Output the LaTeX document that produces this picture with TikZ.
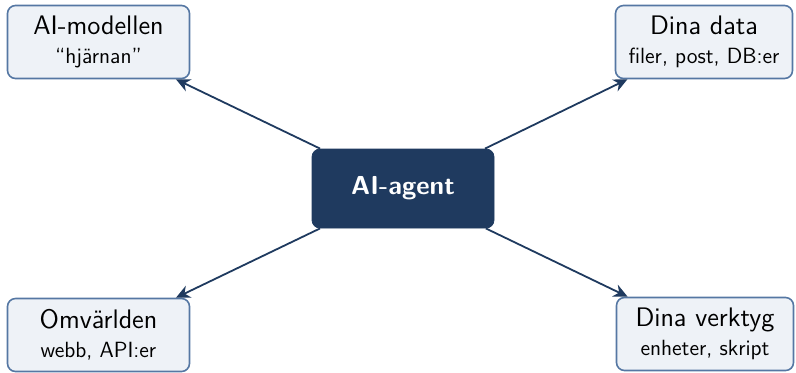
\documentclass[tikz,border=0pt]{standalone}
\usetikzlibrary{arrows.meta}
\definecolor{navy}{HTML}{1F3A5F}
\definecolor{boxfill}{HTML}{EEF2F7}
\definecolor{boxline}{HTML}{5577A3}
\tikzset{
  outbox/.style={draw=boxline, line width=0.8pt, fill=boxfill, rounded corners=4pt,
    minimum width=91pt, minimum height=36.5pt, align=center, inner sep=0pt, font=\sffamily},
  agentbox/.style={draw=navy, fill=navy, rounded corners=4pt, text=white,
    minimum width=91pt, minimum height=39.5pt, inner sep=0pt, font=\sffamily\bfseries\fontsize{13}{15}\selectfont},
  conn/.style={draw=navy, line width=0.9pt, -{Stealth[length=7pt,width=6.5pt]}}
}
\newcommand{\boxtitle}[1]{{\fontsize{13.4}{16}\selectfont #1}}
\newcommand{\boxsub}[1]{{\fontsize{11}{16}\selectfont #1}}
\begin{document}
\begin{tikzpicture}[x=0.5pt,y=-0.5pt]
\useasboundingbox (0,0) rectangle (796,372);
\node[agentbox] (agent) at (403,188.5) {AI-agent};
\node[outbox] (model) at (98.5,42) {\boxtitle{AI-modellen}\\[2.5pt]\boxsub{``hjärnan''}};
\node[outbox, minimum width=88.5pt] (data) at (704,42) {\boxtitle{Dina data}\\[2.5pt]\boxsub{filer, post, DB:er}};
\node[outbox] (world) at (98.5,335) {\boxtitle{Omvärlden}\\[2.5pt]\boxsub{webb, API:er}};
\node[outbox, minimum width=88.5pt] (tools) at (705,334) {\boxtitle{Dina verktyg}\\[2.5pt]\boxsub{enheter, skript}};
\draw[conn] (agent) -- (model);
\draw[conn] (agent) -- (data);
\draw[conn] (agent) -- (world);
\draw[conn] (agent) -- (tools);
\end{tikzpicture}
\end{document}
